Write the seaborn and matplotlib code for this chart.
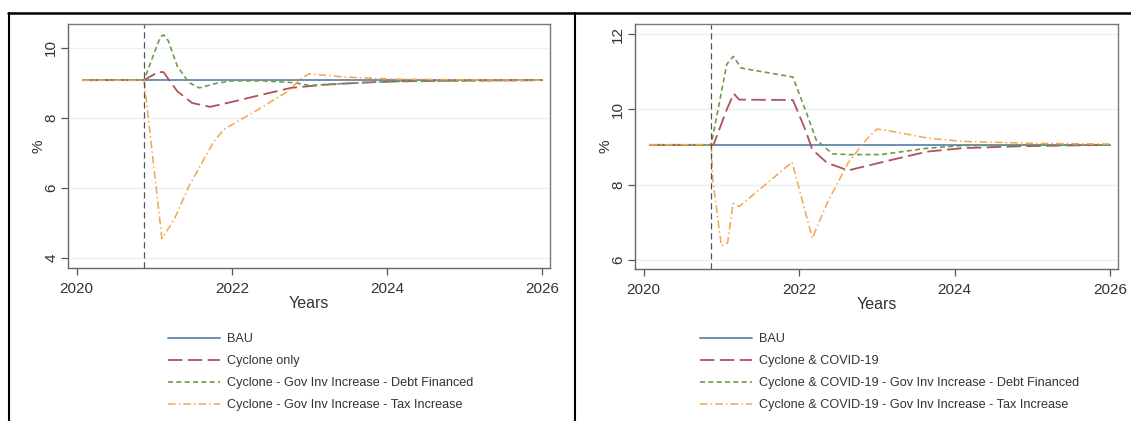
import matplotlib
matplotlib.use("Agg")
import matplotlib.pyplot as plt
import seaborn as sns
import pandas as pd
from matplotlib.lines import Line2D

# ---------------- data ----------------
shock_year = 2020.87

# Left panel: Cyclone only
L_bau_x = [2020.08, 2026.0]
L_bau_y = [9.07, 9.07]
L_red_x = [2020.08, 2020.87, 2020.97, 2021.05, 2021.12, 2021.2, 2021.3, 2021.49, 2021.72, 2022.0, 2022.3, 2022.76, 2023.2, 2023.67, 2024.2, 2025.0, 2026.0]
L_red_y = [9.07, 9.07, 9.2, 9.3, 9.3, 9.05, 8.75, 8.42, 8.31, 8.45, 8.61, 8.85, 8.94, 9.00, 9.04, 9.06, 9.07]
L_grn_x = [2020.08, 2020.87, 2021.0, 2021.08, 2021.12, 2021.18, 2021.3, 2021.45, 2021.58, 2021.8, 2022.0, 2022.4, 2022.8, 2023.0, 2023.4, 2024.0, 2026.0]
L_grn_y = [9.07, 9.07, 9.84, 10.3, 10.36, 10.2, 9.46, 9.0, 8.85, 8.98, 9.05, 9.05, 9.00, 8.92, 8.97, 9.03, 9.07]
L_org_x = [2020.08, 2020.87, 2021.1, 2021.26, 2021.45, 2021.77, 2021.9, 2022.3, 2022.72, 2022.9, 2023.0, 2023.45, 2024.1, 2025.0, 2026.0]
L_org_y = [9.07, 9.07, 4.56, 5.11, 6.06, 7.33, 7.67, 8.18, 8.75, 9.13, 9.25, 9.16, 9.10, 9.08, 9.07]

# Right panel: Cyclone & COVID-19
R_bau_x = [2020.08, 2026.0]
R_bau_y = [9.06, 9.06]
R_red_x = [2020.08, 2020.9, 2021.07, 2021.16, 2021.23, 2021.92, 2022.08, 2022.17, 2022.36, 2022.63, 2023.19, 2023.65, 2024.1, 2024.8, 2026.0]
R_red_y = [9.06, 9.06, 10.0, 10.42, 10.26, 10.25, 9.46, 8.93, 8.58, 8.38, 8.66, 8.88, 8.97, 9.02, 9.06]
R_grn_x = [2020.08, 2020.87, 2021.07, 2021.154, 2021.255, 2021.92, 2022.08, 2022.22, 2022.43, 2022.63, 2023.05, 2023.65, 2024.1, 2026.0]
R_grn_y = [9.06, 9.06, 11.2, 11.41, 11.10, 10.86, 9.99, 9.19, 8.82, 8.80, 8.80, 8.97, 9.04, 9.06]
R_org_x = [2020.08, 2020.87, 2020.89, 2021.0, 2021.08, 2021.15, 2021.23, 2021.91, 2022.17, 2022.36, 2022.63, 2022.86, 2023.0, 2023.19, 2023.65, 2024.1, 2025.0, 2026.0]
R_org_y = [9.06, 9.06, 8.13, 6.38, 6.45, 7.50, 7.42, 8.60, 6.58, 7.51, 8.58, 9.19, 9.48, 9.42, 9.24, 9.15, 9.10, 9.08]

L_labels = ["BAU", "Cyclone only",
            "Cyclone - Gov Inv Increase - Debt Financed",
            "Cyclone - Gov Inv Increase - Tax Increase"]
R_labels = ["BAU", "Cyclone & COVID-19",
            "Cyclone & COVID-19 - Gov Inv Increase - Debt Financed",
            "Cyclone & COVID-19 - Gov Inv Increase - Tax Increase"]

x_ticks = [2020, 2022, 2024, 2026]
L_yticks = [4, 6, 8, 10]
R_yticks = [6, 8, 10, 12]

# ---------------- styling ----------------
sns.set_theme(style="white")
plt.rcParams["font.family"] = ["Liberation Sans", "DejaVu Sans"]
txt = "#333333"

colors = ["#6f8fb3", "#b0525e", "#6d9b4e", "#f5a54a"]
styles = ["-", (0, (8, 3)), (0, (3, 2)), (0, (5, 2, 1, 2))]
widths = [1.4, 1.3, 1.2, 1.1]

fig = plt.figure(figsize=(11.31, 4.21), dpi=100)
W, H = 1131, 421

def fx(px):
    return px / W

def fy(py):
    return 1 - py / H

axL = fig.add_axes([fx(68), fy(268), fx(550) - fx(68), fy(24) - fy(268)])
axR = fig.add_axes([fx(635), fy(269), fx(1118) - fx(635), fy(24) - fy(269)])

panels = [
    (axL, [(L_bau_x, L_bau_y), (L_red_x, L_red_y), (L_grn_x, L_grn_y), (L_org_x, L_org_y)],
     L_labels, L_yticks, (3.72, 10.67), 168),
    (axR, [(R_bau_x, R_bau_y), (R_red_x, R_red_y), (R_grn_x, R_grn_y), (R_org_x, R_org_y)],
     R_labels, R_yticks, (5.76, 12.27), 700),
]

for ax, series, labels, yt, ylim, leg_x in panels:
    for (xs, ys), lab, c, ls, lw in zip(series, labels, colors, styles, widths):
        df = pd.DataFrame({"x": xs, "y": ys})
        sns.lineplot(data=df, x="x", y="y", ax=ax, color=c, linestyle=ls,
                     linewidth=lw, label=lab, legend=False)
    ax.axvline(shock_year, color="#555555", linestyle=(0, (5, 3)), linewidth=0.9)
    ax.set_xlim(2019.89, 2026.1)
    ax.set_ylim(*ylim)
    ax.set_xticks(x_ticks)
    ax.set_yticks(yt)
    ax.set_xticklabels([str(t) for t in x_ticks], fontsize=11, color=txt)
    ax.set_yticklabels([str(t) for t in yt], fontsize=11, color=txt,
                       rotation=90, va="center")
    ax.yaxis.grid(True, color="#eaf3f4", linewidth=1.0)
    ax.xaxis.grid(False)
    ax.tick_params(axis="both", which="both", direction="out", length=5,
                   width=0.9, color="#555555", pad=2,
                   bottom=True, left=True)
    ax.tick_params(axis="x", pad=5)
    for side in ["left", "bottom"]:
        ax.spines[side].set_color("#666666")
        ax.spines[side].set_linewidth(1.0)
    for side in ["top", "right"]:
        ax.spines[side].set_color("#7a7a7a")
        ax.spines[side].set_linewidth(1.0)
    ax.set_xlabel("Years", fontsize=11.5, color=txt, labelpad=0)
    ax.set_ylabel("%", fontsize=11, color=txt, labelpad=-1)
    handles, lbls = ax.get_legend_handles_labels()
    ax.legend(handles, lbls, loc="upper left",
              bbox_to_anchor=(fx(leg_x), fy(333)), bbox_transform=fig.transFigure,
              frameon=False, fontsize=9.1, handlelength=4.1, handletextpad=0.6,
              labelspacing=0.8, borderaxespad=0, borderpad=0, labelcolor=txt)

# table-like outer borders
fig.add_artist(Line2D([fx(8), 1], [fy(12.5), fy(12.5)], color="black", linewidth=1.8,
                      transform=fig.transFigure))
fig.add_artist(Line2D([fx(8.5), fx(8.5)], [fy(12.5), 0], color="black", linewidth=1.5,
                      transform=fig.transFigure))
fig.add_artist(Line2D([fx(575), fx(575)], [fy(12.5), 0], color="black", linewidth=1.5,
                      transform=fig.transFigure))

fig.savefig("out.png", dpi=100, facecolor="white")
